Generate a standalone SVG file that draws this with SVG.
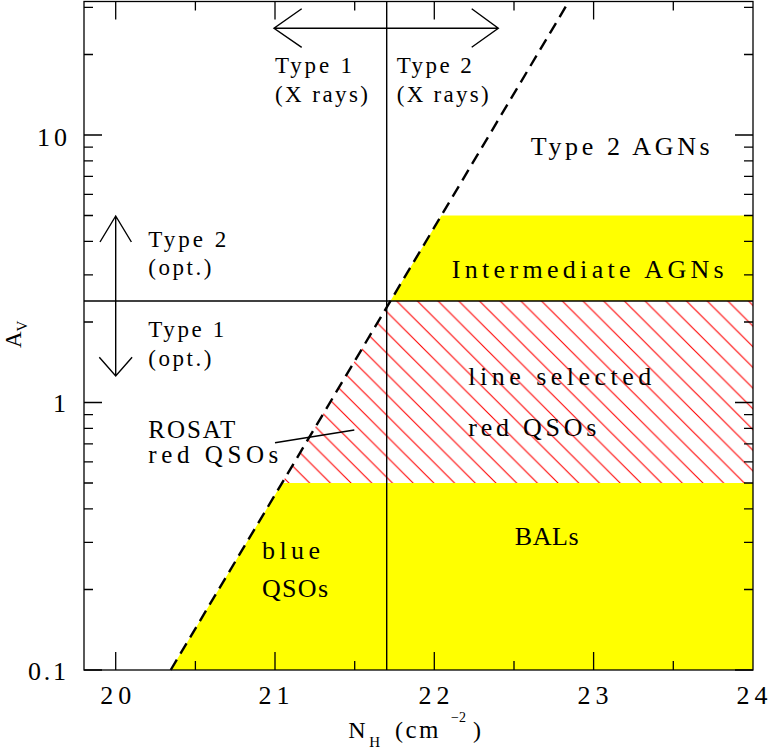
<svg xmlns="http://www.w3.org/2000/svg" width="768" height="750" viewBox="0 0 768 750">
<style>
text{font-family:"Liberation Serif","DejaVu Serif",serif;fill:#000}
.lab{font-size:23px}
.big{font-size:26px}
.tick{font-size:26px}
.ln{stroke:#000;stroke-width:1.4;fill:none}
.tk{stroke:#000;stroke-width:1.3;fill:none}
.yel{fill:#ffff00;stroke:none}
</style>
<defs>
<pattern id="hatch" patternUnits="userSpaceOnUse" x="12.9" y="0" width="20.7" height="20.7">
<path d="M-2,-2 L22.7,22.7 M-2,18.7 L2,22.7 M18.7,-2 L22.7,2" stroke="#ff0000" stroke-width="1.1" fill="none"/>
</pattern>
</defs>
<rect width="768" height="750" fill="#fff"/>
<g id="regions">
<polygon id="blue-bal" class="yel" points="170.7,670 282.1,483 753,483 753,670"/>
<polygon id="intermediate" class="yel" points="390.4,301 441.4,215.5 753,215.5 753,301"/>
<polygon id="line-selected" fill="url(#hatch)" points="282.1,483 390.4,301 753,301 753,483"/>
</g>
<g id="connectors">
<line class="ln" x1="84" y1="301" x2="753" y2="301"/>
<line class="ln" x1="386.7" y1="1.5" x2="386.7" y2="670"/>
<line x1="170.7" y1="670" x2="568.8" y2="1.5" stroke="#000" stroke-width="2.4" stroke-dasharray="12 7"/>
<path class="ln" d="M274,28.3 L498.3,28.3 M301.7,8.8 L274,28.3 L301.7,47.3 M471.7,8.8 L498.3,28.3 L471.7,47.3"/>
<path class="ln" d="M115.7,216 L115.7,376 M100,242 L115.7,216 L131.4,242 M99.3,357.3 L115.7,376 L132.1,357.3"/>
<line class="ln" x1="275" y1="442.7" x2="354.3" y2="430"/>
</g>
<g id="frame">
<rect x="84" y="1.5" width="669" height="668.5" class="tk"/>
<path class="tk" d="M115.7,670v-18M275,670v-18M434.3,670v-18M593.6,670v-18M195.4,670v-9M354.7,670v-9M514,670v-9M673.3,670v-9
M115.7,1.5v18M275,1.5v18M434.3,1.5v18M593.6,1.5v18M195.4,1.5v9M354.7,1.5v9M514,1.5v9M673.3,1.5v9
M84,670h18M84,402.5h18M84,135h18M84,589.5h9M84,542.4h9M84,508.9h9M84,483h9M84,461.8h9M84,443.9h9M84,428.4h9M84,414.7h9
M84,322h9M84,274.9h9M84,241.4h9M84,215.5h9M84,194.3h9M84,176.4h9M84,160.9h9M84,147.2h9M84,54.5h9M84,7.4h9
M753,670h-18M753,402.5h-18M753,135h-18M753,589.5h-9M753,542.4h-9M753,508.9h-9M753,483h-9M753,461.8h-9M753,443.9h-9M753,428.4h-9M753,414.7h-9
M753,322h-9M753,274.9h-9M753,241.4h-9M753,215.5h-9M753,194.3h-9M753,176.4h-9M753,160.9h-9M753,147.2h-9M753,54.5h-9M753,7.4h-9"/>
</g>
<g id="tick-labels" class="tick">
<text x="115.8" y="704" text-anchor="middle" textLength="31">20</text>
<text x="274" y="704" text-anchor="middle" textLength="31">21</text>
<text x="434" y="704" text-anchor="middle" textLength="31">22</text>
<text x="593" y="704" text-anchor="middle" textLength="31">23</text>
<text x="752" y="704" text-anchor="middle" textLength="31">24</text>
<text x="67" y="145.7" text-anchor="end" textLength="30">10</text>
<text x="66" y="412.3" text-anchor="end">1</text>
<text x="66" y="680" text-anchor="end" textLength="38">0.1</text>
</g>
<g id="axis-titles">
<text transform="translate(20.8,348) rotate(-90)" font-size="23">A<tspan font-size="15" dy="6.5">V</tspan></text>
<text font-size="24"><tspan x="348.3" y="738.3">N</tspan><tspan x="369.3" y="746.5" font-size="15">H</tspan><tspan x="395" y="738.3">(</tspan><tspan x="405.5" y="738.3" letter-spacing="2.5" font-size="25">cm</tspan><tspan x="451" y="721.5" font-size="14">−2</tspan><tspan x="473" y="738.3">)</tspan></text>
</g>
<g id="xray-labels" class="lab">
<text x="275" y="73" textLength="77">Type 1</text>
<text x="275" y="101.7" textLength="93">(X rays)</text>
<text x="396.7" y="73" textLength="75">Type 2</text>
<text x="396.7" y="101.7" textLength="92">(X rays)</text>
</g>
<g id="opt-labels" class="lab">
<text x="148.3" y="247.3" textLength="78">Type 2</text>
<text x="148.3" y="275" textLength="63">(opt.)</text>
<text x="148.3" y="336.7" textLength="76">Type 1</text>
<text x="148.3" y="366" textLength="63">(opt.)</text>
</g>
<g id="rosat" class="big">
<text x="148.3" y="438" textLength="87" font-size="25">ROSAT</text>
<text x="148.3" y="462.7" textLength="130" font-size="25">red QSOs</text>
</g>
<g id="type2-agns"><text class="big" x="530.7" y="155" textLength="179" font-size="27">Type 2 AGNs</text></g>
<g id="intermediate-agns"><text class="big" x="451.7" y="278.3" textLength="272" font-size="25">Intermediate AGNs</text></g>
<g id="line-selected-label" class="big">
<text x="468.3" y="385" textLength="183">line selected</text>
<text x="468.3" y="436" textLength="128">red QSOs</text>
</g>
<g id="blue-qsos" class="big">
<text x="262" y="559" textLength="58">blue</text>
<text x="262" y="596.7" textLength="66">QSOs</text>
</g>
<g id="bals"><text class="big" x="514.7" y="545" textLength="64" font-size="27">BALs</text></g>
</svg>
